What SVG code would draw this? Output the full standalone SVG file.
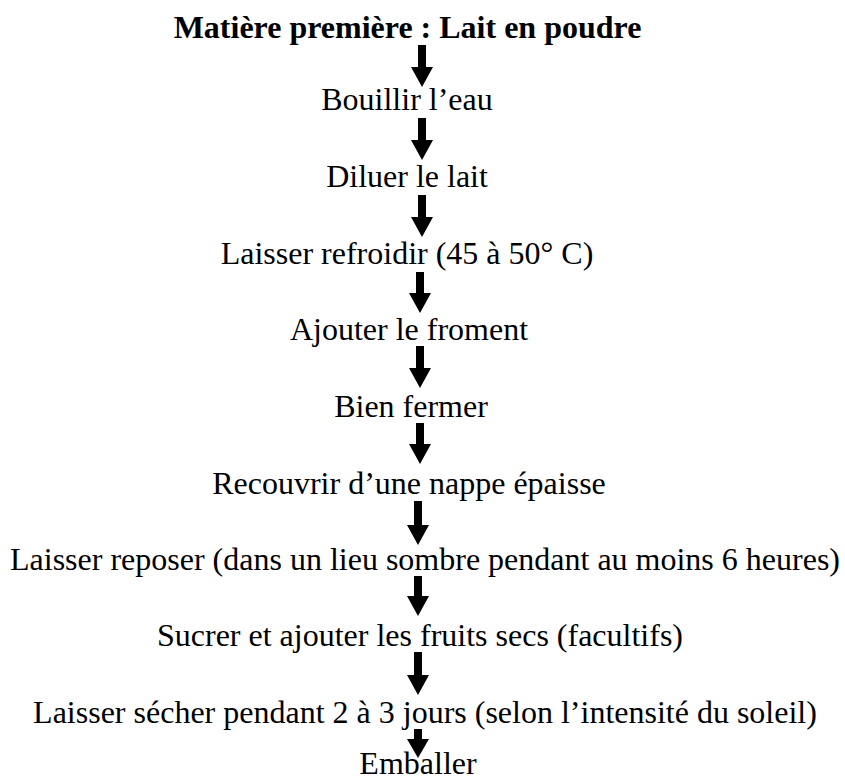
<svg xmlns="http://www.w3.org/2000/svg" width="845" height="778" viewBox="0 0 845 778">
<style>
text{font-family:"Liberation Serif","Times New Roman",serif;font-size:32px;fill:#000;text-anchor:middle}
.b{font-weight:bold}
</style>
<rect width="845" height="778" fill="#fff"/>
<g id="connectors" fill="#000">
<path d="M418,45 h8 v22 h7 l-11,20 l-11,-20 h7 z"/>
<path d="M418,118 h8 v22 h7 l-11,20 l-11,-20 h7 z"/>
<path d="M418,195 h8 v22 h7 l-11,20 l-11,-20 h7 z"/>
<path d="M416,272 h8 v21 h7 l-11,20 l-11,-20 h7 z"/>
<path d="M416,346 h8 v22 h7 l-11,20 l-11,-20 h7 z"/>
<path d="M416,423 h8 v21 h7 l-11,20 l-11,-20 h7 z"/>
<path d="M414,501 h8 v24 h7 l-11,20 l-11,-20 h7 z"/>
<path d="M414,576 h8 v20 h7 l-11,20 l-11,-20 h7 z"/>
<path d="M414,652 h8 v23 h7 l-11,20 l-11,-20 h7 z"/>
<path d="M414,729 h8 v10 h7 l-11,19 l-11,-19 h7 z"/>
</g>
<g id="n0"><text class="b" x="407.5" y="38">Matière première : Lait en poudre</text></g>
<g id="n1"><text x="407" y="110">Bouillir l’eau</text></g>
<g id="n2"><text x="407" y="187">Diluer le lait</text></g>
<g id="n3"><text x="407" y="264">Laisser refroidir (45 à 50° C)</text></g>
<g id="n4"><text x="409" y="340">Ajouter le froment</text></g>
<g id="n5"><text x="411" y="417">Bien fermer</text></g>
<g id="n6"><text x="409" y="494">Recouvrir d’une nappe épaisse</text></g>
<g id="n7"><text x="425" y="570">Laisser reposer (dans un lieu sombre pendant au moins 6 heures)</text></g>
<g id="n8"><text x="420" y="646">Sucrer et ajouter les fruits secs (facultifs)</text></g>
<g id="n9"><text x="425" y="723">Laisser sécher pendant 2 à 3 jours (selon l’intensité du soleil)</text></g>
<g id="n10"><text x="418" y="774">Emballer</text></g>
</svg>
